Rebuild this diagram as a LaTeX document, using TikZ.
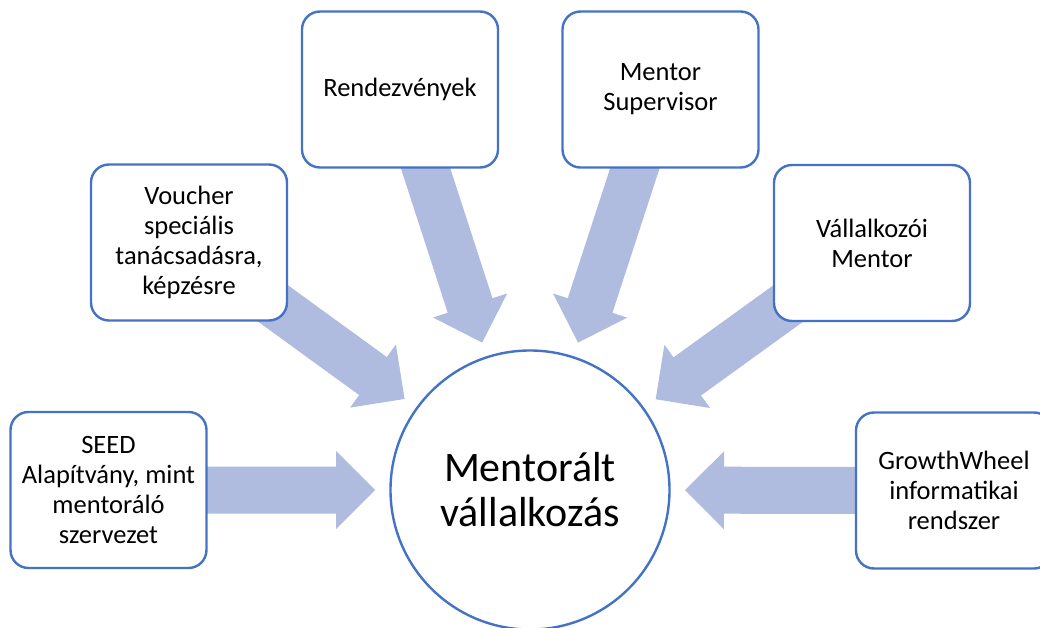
\documentclass[tikz,border=0pt]{standalone}
\usepackage{fontspec}
\setmainfont{Carlito}
\usetikzlibrary{calc}
\pgfdeclarelayer{back}
\pgfsetlayers{back,main}
\definecolor{edgeblue}{HTML}{4472C4}
\definecolor{arrowfill}{HTML}{AFBCDF}
\tikzset{
  itembox/.style={draw=edgeblue, line width=2.4pt, fill=white, rounded corners=18pt,
    minimum width=196pt, minimum height=156pt, align=center, inner sep=0pt,
    font=\fontsize{26.5}{30}\selectfont},
  hub/.style={draw=edgeblue, line width=2.4pt, fill=white, circle, minimum size=279pt,
    align=center, inner sep=0pt, font=\fontsize{42}{45}\selectfont},
  arr/.style={fill=arrowfill}
}
\newcommand\radarrow[1]{%
  \coordinate (#1-t) at ($(c.center)!155pt!(#1.center)$);
  \coordinate (#1-h) at ($(c.center)!194pt!(#1.center)$);
  \fill[arr] (#1-t)
    -- ($(#1-h)!39pt!90:(c.center)$)
    -- ($(#1-h)!23.5pt!90:(c.center)$)
    -- ($(#1.center)!23.5pt!90:(c.center)$)
    -- ($(#1.center)!23.5pt!-90:(c.center)$)
    -- ($(#1-h)!23.5pt!-90:(c.center)$)
    -- ($(#1-h)!39pt!-90:(c.center)$)
    -- cycle;}
\begin{document}
\begin{tikzpicture}[x=1pt,y=1pt]
\useasboundingbox (0,0) rectangle (1040,-628);
\clip (0,0) rectangle (1040,-628);
\node[hub] (c) at (530,-490) {Mentorált\\vállalkozás};
\node[itembox] (seed) at (108.5,-490) {SEED\\Alapítvány, mint\\mentoráló\\szervezet};
\node[itembox] (voucher) at (189,-242.5) {Voucher\\speciális\\tanácsadásra,\\képzésre};
\node[itembox] (rendez) at (400,-89.5) {Rendezvények};
\node[itembox] (mentsup) at (660.5,-89.5) {Mentor\\Supervisor};
\node[itembox] (vallalk) at (872,-243) {Vállalkozói\\Mentor};
\node[itembox] (growth) at (954,-490.5) {GrowthWheel\\informatikai\\rendszer};
\begin{pgfonlayer}{back}
\radarrow{seed}
\radarrow{voucher}
\radarrow{rendez}
\radarrow{mentsup}
\radarrow{vallalk}
\radarrow{growth}
\end{pgfonlayer}
\end{tikzpicture}
\end{document}
